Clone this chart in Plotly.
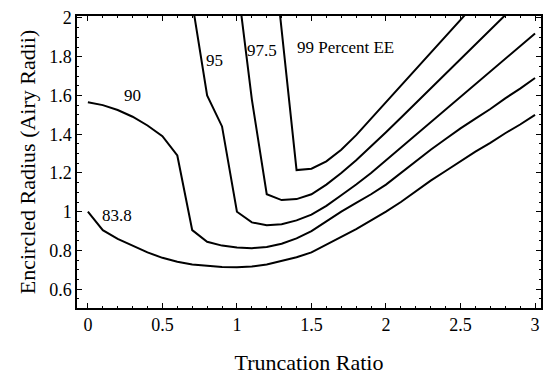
import plotly.graph_objects as go

# Truncation ratio grids and encircled radius values for each EE level
x_838 = [0, 0.1, 0.2, 0.3, 0.4, 0.5, 0.6, 0.7, 0.8, 0.9, 1.0, 1.1, 1.2, 1.3, 1.4, 1.5,
         1.6, 1.7, 1.8, 1.9, 2.0, 2.1, 2.2, 2.3, 2.4, 2.5, 2.6, 2.7, 2.8, 2.9, 3.0]
y_838 = [1.0, 0.905, 0.86, 0.825, 0.79, 0.762, 0.742, 0.728, 0.72, 0.714, 0.713, 0.717,
         0.728, 0.745, 0.765, 0.79, 0.83, 0.87, 0.91, 0.955, 1.0, 1.05, 1.105, 1.16,
         1.21, 1.26, 1.31, 1.355, 1.405, 1.45, 1.5]

x_90 = [0, 0.1, 0.2, 0.3, 0.4, 0.5, 0.6, 0.7, 0.8, 0.9, 1.0, 1.1, 1.2, 1.3, 1.4, 1.5,
        1.6, 1.7, 1.8, 1.9, 2.0, 2.1, 2.2, 2.3, 2.4, 2.5, 2.6, 2.7, 2.8, 2.9, 3.0]
y_90 = [1.565, 1.55, 1.525, 1.49, 1.445, 1.39, 1.29, 0.905, 0.845, 0.825, 0.815, 0.812,
        0.818, 0.835, 0.862, 0.9, 0.95, 1.0, 1.045, 1.09, 1.14, 1.2, 1.26, 1.32, 1.375,
        1.43, 1.48, 1.53, 1.585, 1.635, 1.69]

x_95 = [0.7, 0.8, 0.9, 1.0, 1.1, 1.2, 1.3, 1.4, 1.5, 1.6, 1.7, 1.8, 1.9, 2.0, 2.1, 2.2,
        2.3, 2.4, 2.5, 2.6, 2.7, 2.8, 2.9, 3.0]
y_95 = [2.08, 1.6, 1.44, 1.0, 0.945, 0.93, 0.935, 0.955, 0.985, 1.03, 1.085, 1.14, 1.2,
        1.265, 1.33, 1.395, 1.46, 1.525, 1.59, 1.655, 1.72, 1.79, 1.855, 1.92]

x_975 = [1.0, 1.1, 1.2, 1.3, 1.4, 1.5, 1.6, 1.7, 1.8, 1.9, 2.0, 2.1, 2.2, 2.3, 2.4, 2.5,
         2.6, 2.7, 2.8, 2.9]
y_975 = [2.2, 1.58, 1.09, 1.06, 1.065, 1.09, 1.14, 1.2, 1.265, 1.335, 1.41, 1.485, 1.56,
         1.635, 1.71, 1.785, 1.86, 1.935, 2.01, 2.09]

x_99 = [1.2, 1.3, 1.4, 1.5, 1.6, 1.7, 1.8, 1.9, 2.0, 2.1, 2.2, 2.3, 2.4, 2.5, 2.6]
y_99 = [2.66, 1.94, 1.215, 1.222, 1.26, 1.32, 1.395, 1.48, 1.565, 1.65, 1.735, 1.82,
        1.905, 1.99, 2.075]

curve_labels = ["83.8", "90", "95", "97.5", "99 Percent EE"]
label_x = [0.197, 0.3, 0.85, 1.17, 1.392]
label_y = [0.98, 1.6, 1.78, 1.83, 1.85]

x_ticks = [0, 0.5, 1, 1.5, 2, 2.5, 3]
x_ticktext = ["0", "0.5", "1", "1.5", "2", "2.5", "3"]
y_ticks = [0.6, 0.8, 1.0, 1.2, 1.4, 1.6, 1.8, 2.0]
y_ticktext = ["0.6", "0.8", "1", "1.2", "1.4", "1.6", "1.8", "2"]

FONT = "Liberation Serif, Times New Roman, DejaVu Serif, serif"

fig = go.Figure()
for xs, ys in [(x_838, y_838), (x_90, y_90), (x_95, y_95), (x_975, y_975), (x_99, y_99)]:
    fig.add_trace(go.Scatter(x=xs, y=ys, mode="lines",
                             line=dict(color="black", width=2),
                             showlegend=False, hoverinfo="skip"))

for i, t in enumerate(curve_labels):
    fig.add_annotation(x=label_x[i], y=label_y[i], text=t, showarrow=False,
                       xanchor="left" if i == 4 else "center", yanchor="middle",
                       font=dict(family=FONT, size=17, color="black"))

axis_common = dict(showline=True, linecolor="black", linewidth=1.5, mirror="ticks",
                   ticks="inside", ticklen=5, tickcolor="black", tickwidth=1,
                   showgrid=False, zeroline=False, ticklabeloverflow="allow",
                   tickfont=dict(family=FONT, size=18, color="black"))

fig.update_xaxes(range=[-0.073, 3.04], tickvals=x_ticks, ticktext=x_ticktext,
                 minor=dict(dtick=0.1, ticks="inside", ticklen=2, tickcolor="black", showgrid=False),
                 title=dict(text="Truncation Ratio", font=dict(family=FONT, size=22, color="black"),
                            standoff=20),
                 **axis_common)
fig.update_yaxes(range=[0.503, 2.01], tickvals=y_ticks, ticktext=y_ticktext,
                 minor=dict(dtick=0.05, ticks="inside", ticklen=2, tickcolor="black", showgrid=False),
                 title=dict(text="Encircled Radius (Airy Radii)",
                            font=dict(family=FONT, size=22, color="black"), standoff=7),
                 **axis_common)

fig.update_layout(width=545, height=379, margin=dict(l=77, r=2, t=16, b=71),
                  plot_bgcolor="white", paper_bgcolor="white")

# remove the page's default body margin so the figure fills the window exactly
fig.write_html("out.html", config={"displayModeBar": False},
               post_script="document.body.style.margin='0';")
